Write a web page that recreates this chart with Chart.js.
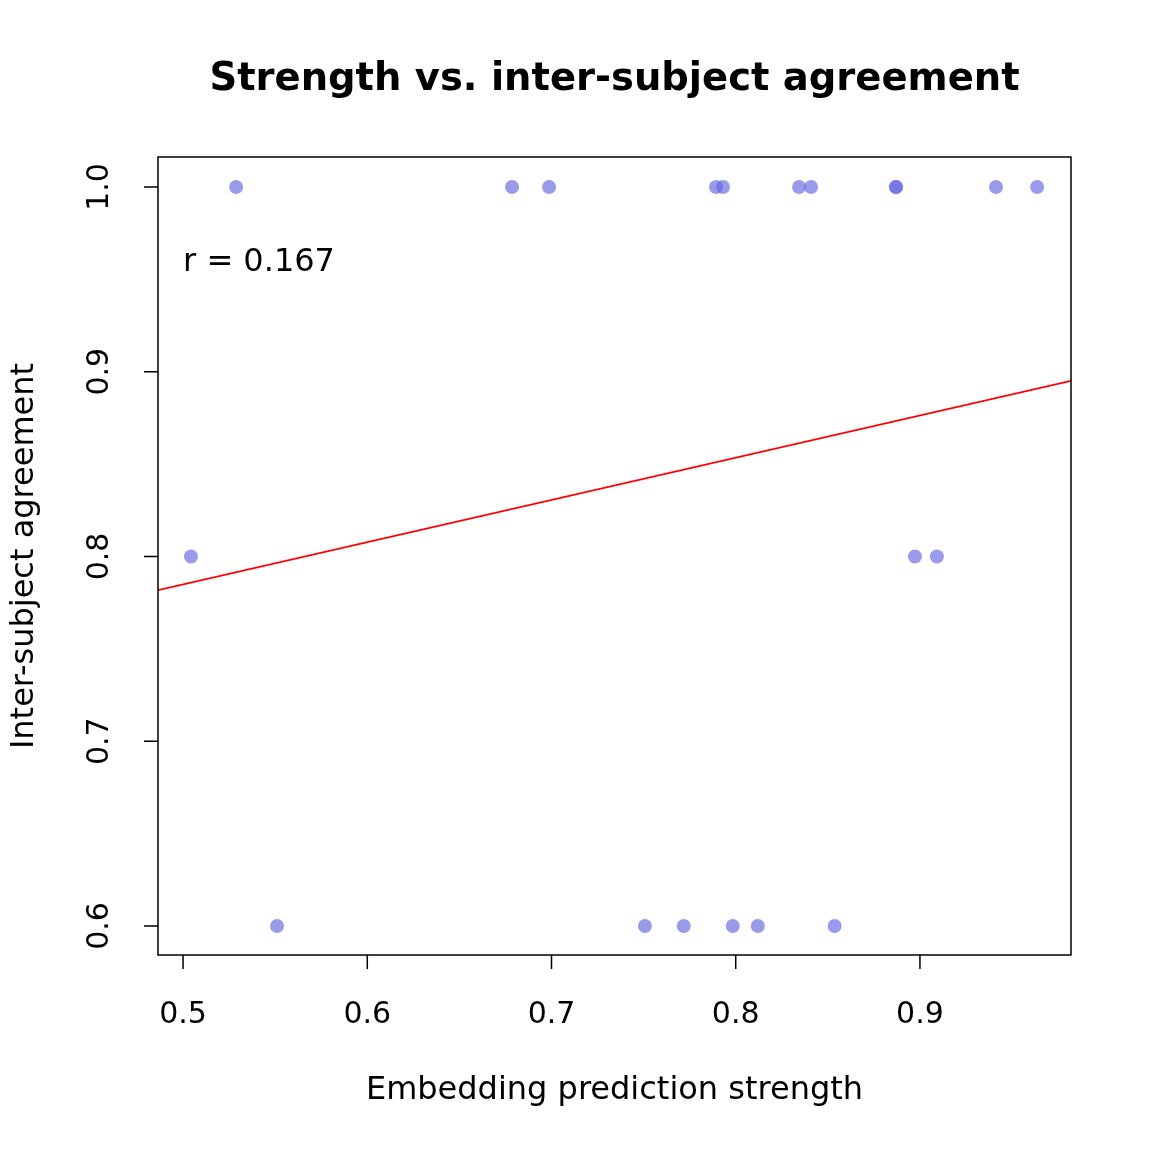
<!DOCTYPE html>
<html><head><meta charset="utf-8">
<script src="https://cdn.jsdelivr.net/npm/chart.js@4"></script>
<style>html,body{margin:0;padding:0;background:#fff}#c{display:block}</style>
</head><body>
<div style="width:1152px;height:1152px"><canvas id="c" width="1152" height="1152"></canvas></div>
<script>
const strength = [0.5288,0.6786,0.6987,0.7893,0.7931,0.8344,0.8409,0.8870,0.8870,0.9413,0.9636,0.5043,0.8973,0.9092,0.5510,0.7507,0.7718,0.7984,0.8120,0.8537];
const agreement = [1,1,1,1,1,1,1,1,1,1,1,0.8,0.8,0.8,0.6,0.6,0.6,0.6,0.6,0.6];
const fitX = [0.4864,0.9820];
const fitY = [0.7818,0.8950];
const xTicks = [0.5,0.6,0.7,0.8,0.9];
const yTicks = [0.6,0.7,0.8,0.9,1.0];
const titleText = "Strength vs. inter-subject agreement";
const xLabel = "Embedding prediction strength";
const yLabel = "Inter-subject agreement";
const rText = "r = 0.167";

const F = "'DejaVu Sans', sans-serif";
const deco = {
  id:'deco',
  afterDraw(ch){
    const c=ch.ctx, a=ch.chartArea, xs=ch.scales.x, ys=ch.scales.y;
    c.save();
    c.strokeStyle='#000'; c.lineWidth=1.5;
    c.strokeRect(a.left,a.top,a.right-a.left,a.bottom-a.top);
    c.fillStyle='#000';
    c.font="30px "+F; c.textAlign='center'; c.textBaseline='middle';
    c.beginPath();
    xTicks.forEach(v=>{const p=xs.getPixelForValue(v); c.moveTo(p,a.bottom); c.lineTo(p,a.bottom+14); c.fillText(v.toFixed(1),p,1015);});
    yTicks.forEach(v=>{const p=ys.getPixelForValue(v); c.moveTo(a.left,p); c.lineTo(a.left-14,p);
      c.save(); c.translate(100,p); c.rotate(-Math.PI/2); c.fillText(v.toFixed(1),0,0); c.restore();});
    c.stroke();
    c.font="32px "+F;
    c.fillText(xLabel,(a.left+a.right)/2,1091);
    c.save(); c.translate(25,(a.top+a.bottom)/2); c.rotate(-Math.PI/2); c.fillText(yLabel,0,0); c.restore();
    c.font="bold 38.5px "+F;
    c.fillText(titleText,(a.left+a.right)/2,80);
    c.font="32px "+F; c.textAlign='left';
    c.fillText(rText,xs.getPixelForValue(0.5),ys.getPixelForValue(0.9592));
    c.restore();
  }
};
new Chart(document.getElementById('c'),{
  type:'scatter',
  data:{datasets:[
    {data:strength.map((x,i)=>({x,y:agreement[i]})),pointRadius:7,pointHoverRadius:7,backgroundColor:'rgba(100,100,225,0.65)',borderWidth:0},
    {type:'line',data:fitX.map((x,i)=>({x,y:fitY[i]})),borderColor:'#ff0000',borderWidth:1.8,pointRadius:0,fill:false}
  ]},
  options:{responsive:false,animation:false,events:[],
    layout:{padding:{left:158,top:157,right:81,bottom:197}},
    plugins:{legend:{display:false},tooltip:{enabled:false}},
    scales:{x:{type:'linear',display:false,min:0.4864,max:0.9820},y:{type:'linear',display:false,min:0.5843,max:1.0162}}
  },
  plugins:[deco]
});
</script></body></html>
